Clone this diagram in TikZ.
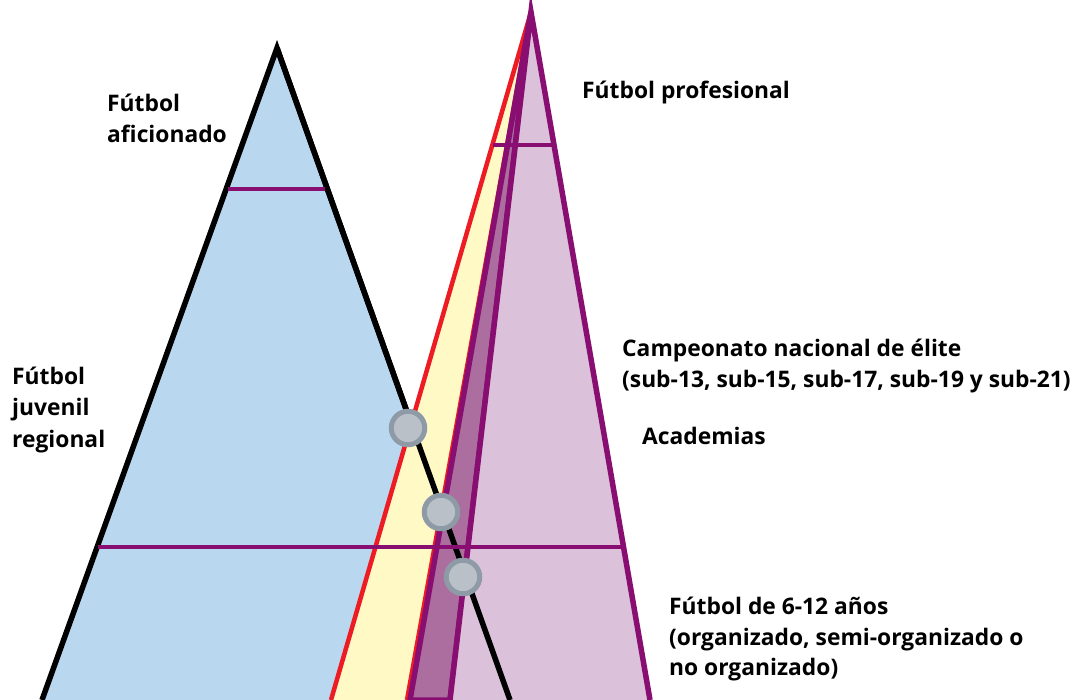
\documentclass[tikz,border=0pt]{standalone}
\usepackage{fontspec}
\newfontfamily\labfont{Open Sans}
\definecolor{bluefill}{RGB}{186,215,240}
\definecolor{yellowfill}{RGB}{255,249,198}
\definecolor{bandfill}{RGB}{171,110,158}
\definecolor{pinkfill}{RGB}{219,194,218}
\definecolor{purp}{RGB}{137,14,114}
\definecolor{redl}{RGB}{237,28,36}
\definecolor{dotfill}{RGB}{185,192,200}
\definecolor{dotline}{RGB}{142,155,166}
\tikzset{
  lab/.style={anchor=base west, inner sep=0pt, font=\labfont\bfseries\fontsize{22.8}{31}\selectfont},
  dot/.style={circle, draw=dotline, fill=dotfill, line width=5pt, minimum size=33.5pt, inner sep=0pt},
  hline/.style={draw=purp, line width=4.5pt},
}
\begin{document}
\begin{tikzpicture}[x=1pt,y=-1pt]
\useasboundingbox (0,0) rectangle (1079,700);
\clip (0,0) rectangle (1079,700);
% key points
\coordinate (A) at (277,48);
\coordinate (AL) at (42,700);
\coordinate (AR) at (510,700);
\coordinate (P) at (531,12);
\coordinate (YL) at (331,700);
\coordinate (YR) at (407,700);
\coordinate (BL) at (410,700);
\coordinate (BR) at (450,700);
\coordinate (PR) at (650,700);
% blue triangle
\filldraw[fill=bluefill, draw=black, line width=5.5pt, line join=miter] (AL) -- (A) -- (AR);
% yellow triangle
\filldraw[fill=yellowfill, draw=redl, line width=4.5pt, line join=miter] (YL) -- (P) -- (YR);
% dark band
\filldraw[fill=bandfill, draw=purp, line width=5.5pt, line join=miter] (BL) -- (P) -- (BR) -- cycle;
% pink triangle
\filldraw[fill=pinkfill, draw=purp, line width=5.5pt, line join=miter] (BR) -- (P) -- (PR);
% black right edge on top
\draw[black, line width=5.5pt] (A) -- (AR);
% horizontal lines
\coordinate (h1a) at (228,189);
\coordinate (h1b) at (325,189);
\draw[hline] (h1a) -- (h1b);
\coordinate (h2a) at (493,145);
\coordinate (h2b) at (554,145);
\draw[hline] (h2a) -- (h2b);
\coordinate (h3a) at (98,547);
\coordinate (h3b) at (623,547);
\draw[hline] (h3a) -- (h3b);
% circles
\node[dot] (c1) at (408,428) {};
\node[dot] (c2) at (441,512) {};
\node[dot] (c3) at (463,577) {};
% labels
\node[lab] (t1) at (582,99) {Fútbol profesional};
\node[lab] (t2a) at (107,112) {Fútbol};
\node[lab] (t2b) at (107,143) {aficionado};
\node[lab] (t3a) at (12,385) {Fútbol};
\node[lab] (t3b) at (12,416) {juvenil};
\node[lab] (t3c) at (12,447) {regional};
\node[lab] (t4a) at (622,357) {Campeonato nacional de élite};
\node[lab] (t4b) at (622,388) {(sub-13, sub-15, sub-17, sub-19 y sub-21)};
\node[lab] (t5) at (642,444) {Academias};
\node[lab] (t6a) at (669,614) {Fútbol de 6-12 años};
\node[lab] (t6b) at (669,645) {(organizado, semi-organizado o};
\node[lab] (t6c) at (669,675) {no organizado)};
\end{tikzpicture}
\end{document}
